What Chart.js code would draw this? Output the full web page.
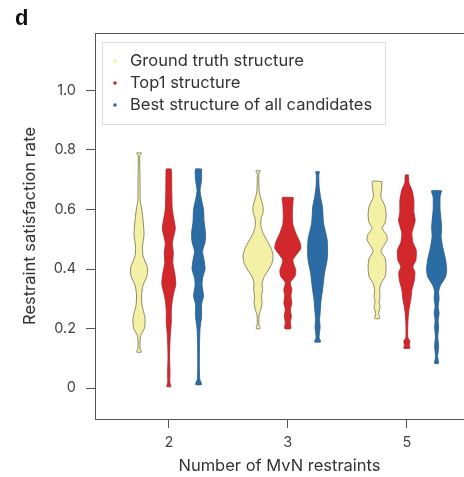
<!DOCTYPE html>
<html>
<head>
<meta charset="utf-8">
<script src="https://cdn.jsdelivr.net/npm/chart.js@4.4.1/dist/chart.umd.min.js"></script>
<style>
  html, body { margin: 0; padding: 0; background: #fff; }
  #wrap { width: 464px; height: 477px; position: relative; }
</style>
</head>
<body>
<div id="wrap"><canvas id="myChart" width="464" height="477"></canvas></div>
<script>
// categories on the x axis (number of MvN restraints)
var categories = ['2', '3', '5'];
var seriesNames = ['Ground truth structure', 'Top1 structure', 'Best structure of all candidates'];
var yTicks = [0, 0.2, 0.4, 0.6, 0.8, 1.0];

// density profiles: [satisfaction rate, density] from top to bottom of each violin
var groundTruth2 = [[0.79, 2.5], [0.78, 0.8], [0.70, 1.0], [0.63, 1.2], [0.605, 2.5], [0.565, 4], [0.515, 5], [0.477, 3.5],
  [0.444, 4], [0.403, 8.5], [0.376, 8], [0.346, 4], [0.313, 2.5], [0.279, 3], [0.235, 6], [0.202, 5.5], [0.175, 1.5],
  [0.134, 1], [0.121, 2.5]];
var groundTruth3 = [[0.73, 2.2], [0.72, 0.8], [0.66, 1.2], [0.635, 3], [0.61, 5], [0.59, 5], [0.57, 3], [0.545, 2.8],
  [0.52, 5], [0.495, 9], [0.47, 13], [0.445, 15], [0.42, 14], [0.395, 10], [0.37, 5.5], [0.35, 4], [0.33, 4.5],
  [0.31, 3.5], [0.285, 4], [0.26, 2.5], [0.245, 1], [0.215, 0.8], [0.2, 2]];
var groundTruth5 = [[0.694, 4.7], [0.67, 4.5], [0.643, 3.7], [0.61, 8], [0.58, 9], [0.555, 8], [0.537, 5], [0.514, 9.5],
  [0.497, 10], [0.475, 6], [0.458, 4], [0.436, 8], [0.408, 9], [0.374, 8], [0.352, 4], [0.33, 2.5], [0.307, 3],
  [0.29, 2], [0.273, 3], [0.251, 1.5], [0.234, 2.5]];

var top1_2 = [[0.736, 2.5], [0.72, 2.8], [0.66, 3], [0.6, 3.5], [0.56, 5.5], [0.535, 6.5], [0.505, 4.5], [0.485, 3.5],
  [0.455, 4.5], [0.42, 4], [0.385, 6], [0.35, 7], [0.32, 5], [0.295, 3.5], [0.26, 2.5], [0.22, 2.5], [0.18, 1.5],
  [0.14, 1], [0.1, 0.8], [0.05, 1.2], [0.02, 1], [0.005, 2]];
var top1_3 = [[0.64, 5.5], [0.62, 5], [0.58, 4.5], [0.55, 5], [0.52, 8], [0.49, 12], [0.47, 13], [0.45, 9], [0.43, 5],
  [0.415, 6], [0.395, 8], [0.375, 7], [0.355, 2.5], [0.33, 4], [0.31, 3], [0.285, 4], [0.265, 2.5], [0.24, 3.5],
  [0.22, 2.5], [0.2, 3]];
var top1_5 = [[0.716, 1.5], [0.69, 2], [0.666, 5], [0.63, 7], [0.59, 7], [0.565, 8.3], [0.545, 7], [0.52, 5], [0.49, 6],
  [0.464, 9.3], [0.43, 9], [0.407, 6], [0.39, 8], [0.363, 7.5], [0.33, 5], [0.3, 4], [0.262, 2], [0.22, 1], [0.17, 1],
  [0.158, 3], [0.145, 2.5], [0.134, 3]];

var best2 = [[0.736, 3], [0.70, 3], [0.665, 1.5], [0.64, 2.5], [0.6, 5], [0.56, 5.5], [0.52, 7], [0.49, 6.5], [0.46, 4],
  [0.43, 5.5], [0.4, 6.5], [0.37, 4], [0.345, 3.5], [0.31, 5], [0.28, 3], [0.24, 3], [0.2, 1.5], [0.15, 1], [0.08, 0.8],
  [0.03, 1.2], [0.012, 3]];
var best3 = [[0.727, 1.8], [0.715, 1.2], [0.677, 1.5], [0.64, 3], [0.61, 4.8], [0.554, 6], [0.5, 9.5], [0.465, 10],
  [0.43, 9.5], [0.387, 7], [0.33, 5], [0.296, 3.5], [0.25, 2.5], [0.23, 2], [0.205, 2.5], [0.17, 1.5], [0.155, 3]];
var best5 = [[0.663, 5], [0.643, 3.5], [0.598, 3.5], [0.542, 5], [0.509, 4.5], [0.475, 6], [0.43, 9], [0.397, 10],
  [0.374, 9], [0.346, 4], [0.324, 2], [0.301, 2.5], [0.273, 1.5], [0.251, 2.5], [0.229, 1.5], [0.206, 2], [0.172, 1.2],
  [0.139, 2], [0.105, 1], [0.083, 2]];

var profiles = [
  [groundTruth2, groundTruth3, groundTruth5],
  [top1_2, top1_3, top1_5],
  [best2, best3, best5]
];

var fills = ['#f4f1a6', '#d2282c', '#2c6ca4'];
var edges = ['#8a8a66', '#b02024', '#245a8a'];
var offsets = [-0.25, 0, 0.25];
var densityScale = 1 / 119;

// closed outline of one violin: down the right side, up the left side
function violinPath(profile, center) {
  var pts = [];
  profile.forEach(function (p) { pts.push({ x: center + p[1] * densityScale, y: p[0] }); });
  for (var i = profile.length - 1; i >= 0; i--) {
    pts.push({ x: center - profile[i][1] * densityScale, y: profile[i][0] });
  }
  pts.push(pts[0]);
  return pts;
}

var datasets = [];
profiles.forEach(function (group, s) {
  group.forEach(function (profile, c) {
    datasets.push({
      label: seriesNames[s],
      data: violinPath(profile, c + offsets[s]),
      showLine: true,
      fill: 'shape',
      backgroundColor: fills[s],
      borderColor: edges[s],
      borderWidth: s === 0 ? 1 : 0.8,
      pointRadius: 0,
      tension: 0.2
    });
  });
});

// panel letter, top spine and legend box
var extras = {
  id: 'extras',
  afterDraw: function (chart) {
    var ctx = chart.ctx, a = chart.chartArea;
    ctx.save();
    ctx.strokeStyle = '#555';
    ctx.lineWidth = 1;
    ctx.beginPath();
    ctx.moveTo(a.left, a.top + 0.5);
    ctx.lineTo(a.right, a.top + 0.5);
    ctx.stroke();

    ctx.fillStyle = '#111';
    ctx.font = 'bold 22px "Liberation Sans", Arial, sans-serif';
    ctx.textBaseline = 'alphabetic';
    ctx.fillText('d', 15, 25);

    ctx.fillStyle = '#fff';
    ctx.fillRect(102.5, 42.5, 283, 82);
    ctx.strokeStyle = '#dcdcdc';
    ctx.strokeRect(102.5, 42.5, 283, 82);
    ctx.font = '16.5px Inter, sans-serif';
    ctx.textBaseline = 'middle';
    seriesNames.forEach(function (name, i) {
      var y = 61 + i * 22;
      ctx.fillStyle = fills[i];
      ctx.beginPath();
      ctx.arc(115, y, 1.8, 0, Math.PI * 2);
      ctx.fill();
      ctx.fillStyle = '#333';
      ctx.fillText(name, 130, y);
    });
    ctx.restore();
  }
};

var ctx = document.getElementById('myChart').getContext('2d');
var myChart = new Chart(ctx, {
  type: 'scatter',
  data: { datasets: datasets },
  options: {
    responsive: false,
    animation: false,
    devicePixelRatio: 1,
    layout: { padding: { top: 33, left: 0, right: 0, bottom: 0 } },
    plugins: { legend: { display: false }, tooltip: { enabled: false } },
    scales: {
      x: {
        type: 'linear',
        min: -0.62,
        max: 2.48,
        afterBuildTicks: function (s) { s.ticks = categories.map(function (c, i) { return { value: i }; }); },
        afterFit: function (s) { s.height = 58; },
        ticks: {
          callback: function (v) { return categories[v]; },
          color: '#444',
          font: { family: 'Inter', size: 14.5 },
          padding: 6
        },
        grid: { drawOnChartArea: false, drawTicks: true, tickLength: 9, color: '#555' },
        border: { display: true, color: '#555', width: 1 },
        title: {
          display: true,
          text: 'Number of MvN restraints',
          color: '#333',
          font: { family: 'Inter', size: 16.5 },
          padding: { top: 0, bottom: 1 }
        }
      },
      y: {
        type: 'linear',
        min: -0.104,
        max: 1.193,
        afterBuildTicks: function (s) { s.ticks = yTicks.map(function (v) { return { value: v }; }); },
        afterFit: function (s) { s.width = 95; },
        ticks: {
          callback: function (v) { return v === 0 ? '0' : v.toFixed(1); },
          color: '#444',
          font: { family: 'Inter', size: 14.5 },
          padding: 10
        },
        grid: { drawOnChartArea: false, drawTicks: true, tickLength: 9, color: '#555' },
        border: { display: true, color: '#555', width: 1 },
        title: {
          display: true,
          text: 'Restraint satisfaction rate',
          color: '#333',
          font: { family: 'Inter', size: 16.5 },
          padding: { top: 20, bottom: 0 }
        }
      }
    }
  },
  plugins: [extras]
});
</script>
</body>
</html>
